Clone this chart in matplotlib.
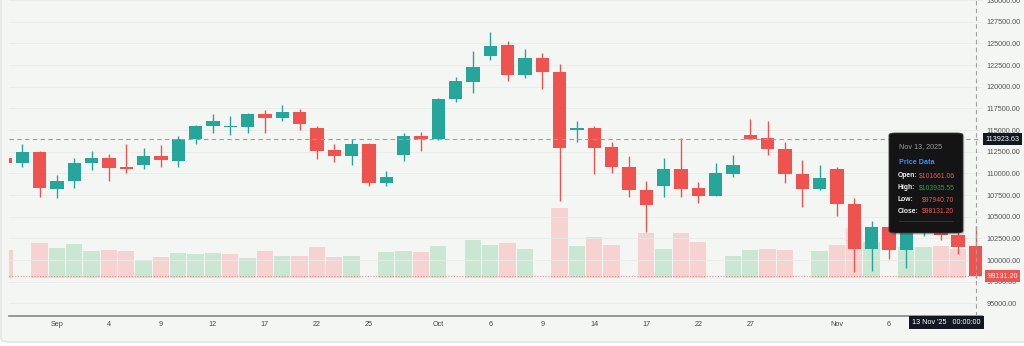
import matplotlib
matplotlib.use("Agg")
import matplotlib.pyplot as plt
from matplotlib.patches import FancyBboxPatch
from matplotlib.lines import Line2D
import matplotlib.transforms as mtransforms

plt.rcParams['font.family'] = ['Liberation Sans', 'DejaVu Sans']

# daily OHLC (USD), oldest first; first candle is cut by the left edge
opens = [111730, 111150, 112500, 108150, 109115, 111150, 111730, 110690, 110960, 112000,
         111460, 113920, 115460, 115300, 115385, 116810, 116420, 117080, 115190, 112650,
         112000, 113350, 108920, 112080, 114350, 113960, 118620, 120580, 123540, 124770,
         121350, 123350, 121730, 115000, 115230, 113000, 110730, 108080, 108580, 110500,
         108270, 107420, 109960, 114390, 114040, 112850, 109920, 108150, 110500, 106500,
         101270, 103770, 101150, 103400, 104900, 102890, 101661.06]
highs = [111900, 113385, 112615, 109810, 111730, 112580, 112190, 113385, 112885, 113270,
         114310, 115540, 116810, 116650, 117000, 117310, 117885, 117460, 115460, 113385,
         113920, 113540, 110310, 114620, 114810, 118730, 121150, 124080, 126350, 125270,
         124310, 123850, 122620, 116040, 115460, 113580, 112000, 109120, 111730, 114040,
         109040, 111230, 112120, 116230, 116080, 113620, 111540, 110920, 110770, 107120,
         104500, 104100, 104200, 105400, 105500, 103300, 103935.55]
lows = [111000, 110770, 107310, 107115, 108270, 110385, 109150, 110080, 110460, 110690,
        110770, 113385, 114690, 114385, 114690, 114690, 116080, 115000, 111690, 111350,
        110960, 108540, 108540, 111460, 112620, 113850, 118230, 119310, 123080, 120650,
        121040, 119690, 106810, 113620, 109890, 110080, 107310, 103270, 107310, 107310,
        106540, 107390, 109620, 113920, 112120, 108850, 106150, 108080, 105080, 98650,
        98770, 100080, 99050, 102800, 102300, 100670, 97940.70]
closes = [111150, 112500, 108270, 109115, 111150, 111730, 110580, 110540, 112000, 111540,
          113920, 115460, 116080, 115450, 116810, 116420, 117080, 115650, 112620, 112000,
          113350, 108920, 109620, 114350, 113960, 118620, 120620, 122310, 124730, 121350,
          123350, 121690, 112890, 115230, 112960, 110690, 108040, 106310, 110500, 108230,
          107420, 110000, 110960, 114000, 112810, 109920, 108150, 109500, 106500, 101270,
          103770, 101120, 103400, 104900, 102890, 101540, 98131.20]
prev_close = 111800  # close before the first visible candle

# volume in thousands, None where the bar is missing
volumes = [27.7, None, 34.3, 29.3, 33.3, 27.0, 27.7, 26.7, 17.3, 20.7,
           25.0, 23.3, 24.3, 23.7, 20.0, 26.7, 21.7, 21.7, 31.0, 20.7,
           21.3, None, 25.3, 26.7, 26.0, 32.0, None, 37.7, 32.3, 34.3,
           29.0, None, 69.3, 32.0, 41.0, 32.7, None, 44.7, 28.3, 45.0,
           35.7, None, 21.3, 27.3, 29.0, 27.7, None, 26.7, 33.0, 50.0,
           36.0, None, 30.5, 30.5, 31.5, 28.5, None]

tick_pos = [3, 6, 9, 12, 15, 18, 21, 25, 28, 31, 34, 37, 40, 43, 48, 51]
tick_labels = ['Sep', '4', '9', '12', '17', '22', '25', 'Oct', '6', '9', '14', '17', '22', '27', 'Nov', '6']

crosshair_price = 113923.63
hover_date = "Nov 13, 2025"
hover_time = "13 Nov '25   00:00:00"

UP = '#26a69a'
DOWN = '#ef5350'
VOL_UP = '#c9e7d3'
VOL_DOWN = '#f6d3d1'
BG = '#f4f6f3'

W, H = 1024, 346


def px(x, y):
    """pixel (from top-left) -> figure fraction"""
    return x / W, 1 - y / H


fig = plt.figure(figsize=(W / 100, H / 100), dpi=100)
fig.patch.set_facecolor('#fbfcfb')
# card behind the chart: only left and bottom borders are in view
card = FancyBboxPatch(px(1, 342), (W + 20) / W, 360 / H, boxstyle="round,pad=0,rounding_size=0.01",
                      transform=fig.transFigure, facecolor=BG, edgecolor='#dfe3df', linewidth=1.0, zorder=-10)
fig.patches.append(card)

rect = [9 / W, 30 / H, 973 / W, 316 / H]
ax_vol = fig.add_axes(rect)
ax = fig.add_axes(rect)
ax_vol.set_zorder(0)
ax.set_zorder(1)
ax.patch.set_visible(False)
ax_vol.patch.set_visible(False)

n = len(closes)
xs = list(range(n))

# volume pane (own scale, sits at the bottom of the price pane)
prev = [prev_close] + closes[:-1]
for i in xs:
    if volumes[i] is None:
        continue
    col = VOL_UP if closes[i] >= prev[i] else VOL_DOWN
    ax_vol.bar(i, volumes[i], width=0.94, color=col, linewidth=0)
ax_vol.set_ylim(-38.5, 277.5)
ax_vol.set_xlim(0.233, 56.375)
ax_vol.axis('off')

# grid
ax.set_ylim(93550, 130003)
ax.set_xlim(0.233, 56.375)
yt = list(range(95000, 130001, 2500))
ax.set_yticks(yt)
for y in yt:
    ax.axhline(y, color='#e7ebe7', linewidth=0.6, zorder=0)

# candles
for i in xs:
    o, h, l, c = opens[i], highs[i], lows[i], closes[i]
    col = UP if c >= o else DOWN
    ax.vlines(i, l, h, color=col, linewidth=1.0, zorder=2)
    body = max(abs(c - o), 90)
    ax.bar(i, body, bottom=min(o, c), width=0.77, color=col, linewidth=0, zorder=3)

# last price line + crosshair
ax.axhline(closes[-1], color=DOWN, linestyle=(0, (1, 1.5)), linewidth=0.8, alpha=0.6, zorder=1)
ax.axhline(crosshair_price, color='#a0a0a0', linestyle=(0, (4, 3)), linewidth=0.8, zorder=4)
ax.axvline(xs[-1], color='#a0a0a0', linestyle=(0, (4, 3)), linewidth=0.8, zorder=4)

# axes styling
for s in ['top', 'left', 'right']:
    ax.spines[s].set_visible(False)
ax.spines['bottom'].set_color('#8f8f8f')
ax.spines['bottom'].set_linewidth(1.3)
ax.yaxis.tick_right()
ax.tick_params(axis='y', length=0, pad=3, labelsize=5.2, labelcolor='#555555')
ax.set_yticklabels([f"{v:.2f}" for v in yt])
ax.set_xticks(tick_pos)
ax.set_xticklabels(tick_labels)
ax.tick_params(axis='x', length=0, pad=3.5, labelsize=5.2, labelcolor='#444444')

# right scale labels
ytrans = mtransforms.blended_transform_factory(ax.transAxes, ax.transData)
ax.text(1.0035, crosshair_price, f"{crosshair_price:.2f}", transform=ytrans, fontsize=5.2, color='white',
        va='center', ha='left', clip_on=False, zorder=20,
        bbox=dict(boxstyle='square,pad=0.35', facecolor='#131722', edgecolor='none'))
ax.text(1.0055, closes[-1], f"{closes[-1]:.2f}", transform=ytrans, fontsize=5.2, color='white',
        va='center', ha='left', clip_on=False, zorder=20,
        bbox=dict(boxstyle='square,pad=0.35', facecolor=DOWN, edgecolor='none'))

# time label under the crosshair
xtrans = mtransforms.blended_transform_factory(ax.transData, ax.transAxes)
ax.text(xs[-1] + 0.3, -0.021, hover_time, transform=xtrans, fontsize=5.2, color='white', ha='right', va='center',
        clip_on=False, zorder=20, bbox=dict(boxstyle='square,pad=0.45', facecolor='#131722', edgecolor='none'))

# tooltip
x0, y0 = px(889, 233)
fig.patches.append(FancyBboxPatch((x0 + 0.0015, y0 - 0.006), 74 / W, 100 / H,
                                  boxstyle="round,pad=0,rounding_size=0.006", transform=fig.transFigure,
                                  facecolor='black', edgecolor='none', alpha=0.12, zorder=30))
fig.patches.append(FancyBboxPatch((x0, y0), 74 / W, 100 / H, boxstyle="round,pad=0,rounding_size=0.006",
                                  transform=fig.transFigure, facecolor='#141414', edgecolor='#3a3a3a',
                                  linewidth=0.6, zorder=31))
fig.text(*px(899, 147), hover_date, fontsize=5.2, color='#9c9c9c', va='center', zorder=32)
fig.text(*px(899, 163), "Price Data", fontsize=5.2, color='#3d8bfd', fontweight='bold', va='center', zorder=32)
rows = [("Open:", opens[-1], DOWN, 175.5), ("High:", highs[-1], '#2e9e4f', 187.5),
        ("Low:", lows[-1], DOWN, 199.5), ("Close:", closes[-1], DOWN, 211.5)]
for name, val, col, yy in rows:
    fig.text(*px(898, yy), name, fontsize=4.9, color='#eeeeee', fontweight='bold', va='center', zorder=32)
    fig.text(*px(954.5, yy), f"${val:.2f}", fontsize=4.9, color=col, ha='right', va='center', zorder=32)
fig.lines.append(Line2D([899 / W, 953 / W], [1 - 220.5 / H] * 2, transform=fig.transFigure,
                        color='#3a3a3a', linewidth=0.6, zorder=32))

fig.savefig("out.png", dpi=100, facecolor=fig.get_facecolor())
